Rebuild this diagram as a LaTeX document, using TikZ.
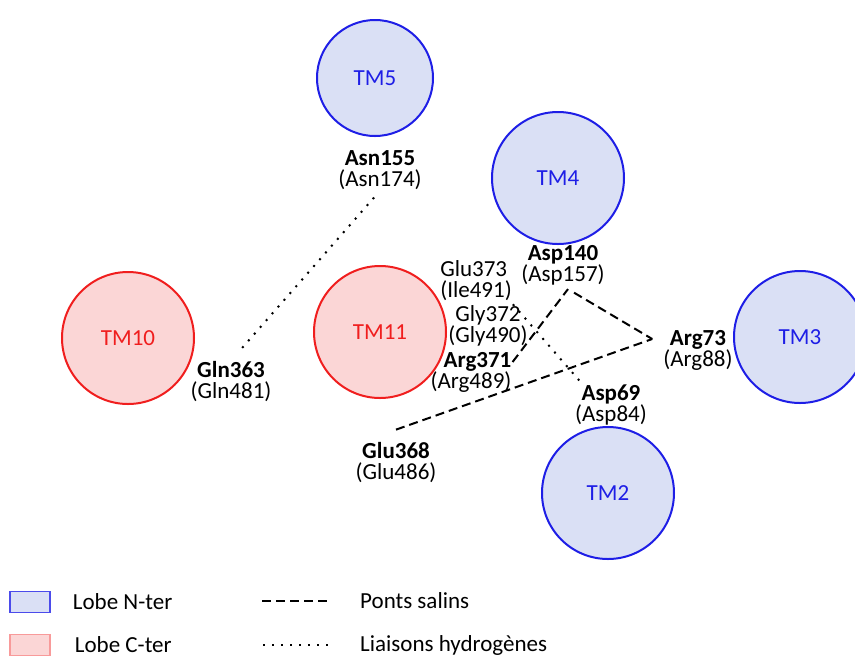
\documentclass[tikz,border=0pt]{standalone}
\usepackage{fontspec}
\setmainfont{Carlito}
\usetikzlibrary{positioning}

\definecolor{nterfill}{RGB}{218,224,245}
\definecolor{nterline}{RGB}{30,30,230}
\definecolor{cterfill}{RGB}{251,214,214}
\definecolor{cterline}{RGB}{240,30,30}

\tikzset{
  nlobe/.style={circle, draw=nterline, fill=nterfill, line width=2pt,
    minimum size=132pt, inner sep=0pt, text=nterline,
    font=\fontsize{23}{26}\selectfont},
  clobe/.style={circle, draw=cterline, fill=cterfill, line width=2pt,
    minimum size=132pt, inner sep=0pt, text=cterline,
    font=\fontsize{23}{26}\selectfont},
  residue/.style={align=center, inner sep=1pt, font=\fontsize{23}{21}\selectfont},
  keytext/.style={inner sep=2pt, font=\fontsize{23}{26}\selectfont},
  saltbridge/.style={line width=2pt, dash pattern=on 9pt off 5pt},
  hbond/.style={line width=2pt, dash pattern=on 2pt off 7pt}
}

\begin{document}
\begin{tikzpicture}[x=1pt, y=-1pt, node distance=20pt]
  \useasboundingbox (0,0) rectangle (855,657);
  % helices
  \node[nlobe, minimum size=116pt] (tm5) at (375,78) {TM5};
  \node[nlobe] (tm4) at (558,178) {TM4};
  \node[nlobe] (tm3) at (800,337) {TM3};
  \node[nlobe] (tm2) at (608,493) {TM2};
  \node[clobe] (tm10) at (128,338) {TM10};
  \node[clobe] (tm11) at (380,332) {TM11};
  % residues
  \node[residue] (asn155) at (380,170) {\textbf{Asn155}\\(Asn174)};
  \node[residue] (asp140) at (563,265) {\textbf{Asp140}\\(Asp157)};
  \node[residue, align=left] (glu373) at (476,281) {Glu373\\(Ile491)};
  \node[residue] (gly372) at (488,326) {Gly372\\(Gly490)};
  \node[residue, align=right] (arg371) at (471,372) {\textbf{Arg371}\\(Arg489)};
  \node[residue] (arg73) at (698,350) {\textbf{Arg73}\\(Arg88)};
  \node[residue] (asp69) at (611,405) {\textbf{Asp69}\\(Asp84)};
  \node[residue] (gln363) at (231,382) {\textbf{Gln363}\\(Gln481)};
  \node[residue] (glu368) at (396,463) {\textbf{Glu368}\\(Glu486)};
  % interactions
  \coordinate (arg73tip) at ([xshift=-10pt, yshift=11pt]arg73.west);
  \coordinate (asp140tip) at ([xshift=5pt, yshift=-3pt]asp140.south);
  \draw[hbond, shorten <=9pt, shorten >=14pt] (asn155.south) -- (gln363.north);
  \draw[hbond] ([yshift=-2pt]glu373.south east) -- ([xshift=8pt]asp69.north west);
  \draw[saltbridge] ([yshift=10pt]arg371.east) -- (asp140tip);
  \draw[saltbridge, shorten <=7pt] (asp140tip) -- (arg73tip);
  \draw[saltbridge] ([yshift=12pt]glu368.north) -- (arg73tip);
  % legend
  \node[draw=nterline!80, fill=nterfill, line width=1.5pt, minimum width=40pt,
    minimum height=21pt, inner sep=0pt] (nkey) at (30,602) {};
  \node[keytext, right=of nkey] (nkeytext) {Lobe N-ter};
  \node[draw=cterline!45, fill=cterfill, line width=1.5pt, minimum width=40pt,
    minimum height=21pt, inner sep=0pt] (ckey) at (30,645) {};
  \node[keytext, right=22pt of ckey] (ckeytext) {Lobe C-ter};
  \coordinate (skeyleft) at (262,601);
  \coordinate (skeyright) at (328,601);
  \draw[saltbridge] (skeyleft) -- (skeyright);
  \node[keytext, right=30pt of skeyright] (skeytext) {Ponts salins};
  \coordinate (hkeyleft) at (263,645);
  \coordinate (hkeyright) at (328,645);
  \draw[hbond] (hkeyleft) -- (hkeyright);
  \node[keytext, right=30pt of hkeyright] (hkeytext) {Liaisons hydrogènes};
\end{tikzpicture}
\end{document}
